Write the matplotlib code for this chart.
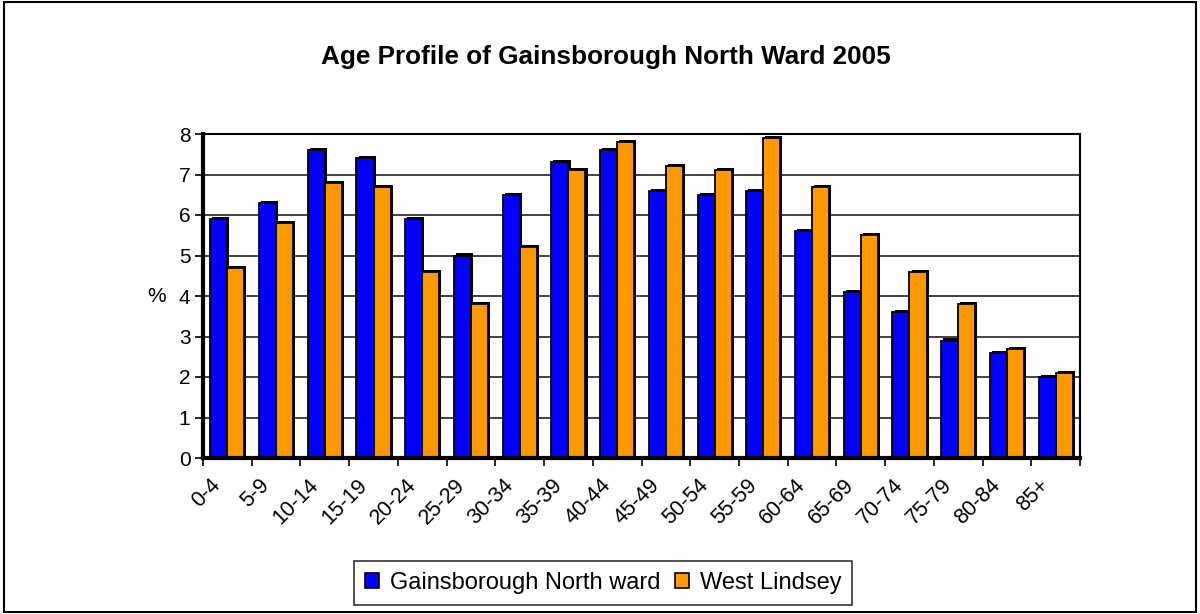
import matplotlib.pyplot as plt
import matplotlib.patheffects as pe
from matplotlib.transforms import ScaledTranslation
import numpy as np

age_groups = ['0-4', '5-9', '10-14', '15-19', '20-24', '25-29', '30-34', '35-39',
              '40-44', '45-49', '50-54', '55-59', '60-64', '65-69', '70-74',
              '75-79', '80-84', '85+']
north_ward = [5.9, 6.3, 7.6, 7.4, 5.9, 5.0, 6.5, 7.3, 7.6, 6.6, 6.5, 6.6,
              5.6, 4.1, 3.6, 2.9, 2.6, 2.0]
west_lindsey = [4.7, 5.8, 6.8, 6.7, 4.6, 3.8, 5.2, 7.1, 7.8, 7.2, 7.1, 7.9,
                6.7, 5.5, 4.6, 3.8, 2.7, 2.1]

plt.rcParams['font.family'] = ['Liberation Sans', 'DejaVu Sans']

fig = plt.figure(figsize=(12, 6.14), dpi=100)
ax = fig.add_axes([203 / 1200, 1 - 458 / 614, 877 / 1200, 324 / 614])

x = np.arange(len(age_groups))
w = 0.35
# dark offset shadow gives the bars their thick top/right edge
shadow = [pe.SimplePatchShadow(offset=(1.5, 1.5), shadow_rgbFace='black', alpha=1), pe.Normal()]
ax.bar(x - w / 2, north_ward, w, color='#0000ff', edgecolor='black', linewidth=1.3,
       label='Gainsborough North ward', zorder=3, path_effects=shadow)
ax.bar(x + w / 2, west_lindsey, w, color='#ff9900', edgecolor='black', linewidth=1.3,
       label='West Lindsey', zorder=3, path_effects=shadow)

ax.set_xlim(-0.5, len(age_groups) - 0.5)
ax.set_ylim(0, 8)
ax.set_yticks(range(9))
ax.tick_params(axis='y', labelsize=15, length=6, width=1.2, direction='out', pad=3)
ax.yaxis.grid(True, color='#333333', linewidth=1.3, zorder=0)

# category ticks sit on the boundaries between groups
ax.set_xticks(np.arange(len(age_groups) + 1) - 0.5)
ax.set_xticklabels([])
ax.tick_params(axis='x', which='major', length=6, width=1.2, direction='out')

# rotated category labels, nudged left/down like the Excel original
lbl_tr = ax.get_xaxis_transform() + ScaledTranslation(-0.17, -0.17, fig.dpi_scale_trans)
for xi, name in zip(x, age_groups):
    ax.text(xi, 0, name, transform=lbl_tr, rotation=45, ha='right', va='top',
            rotation_mode='anchor', fontsize=15.5, clip_on=False)

for s in ax.spines.values():
    s.set_linewidth(1.5)
    s.set_zorder(4)
ax.spines['left'].set_linewidth(3)
ax.spines['bottom'].set_linewidth(3)

ax.set_ylabel('%', rotation=0, fontsize=15, labelpad=16, va='center')

fig.text(0.505, 1 - 57 / 614, 'Age Profile of Gainsborough North Ward 2005',
         ha='center', va='center', fontsize=18.8, fontweight='bold')

leg = fig.legend(loc='center', bbox_to_anchor=(0.5025, 1 - 583 / 614), ncol=2, fontsize=17,
                 frameon=True, fancybox=False, edgecolor='black', handlelength=0.62,
                 handleheight=0.62, columnspacing=0.6, handletextpad=0.45,
                 borderpad=0.45, borderaxespad=0)
leg.get_frame().set_linewidth(1.2)
for h in leg.legend_handles:
    h.set_path_effects([])
    h.set_linewidth(1.2)

# outer chart frame
fig.patches.append(plt.Rectangle((0.003, 0.004), 0.994, 0.992, transform=fig.transFigure,
                                 fill=False, edgecolor='black', linewidth=1.5))

fig.savefig('out.png')
